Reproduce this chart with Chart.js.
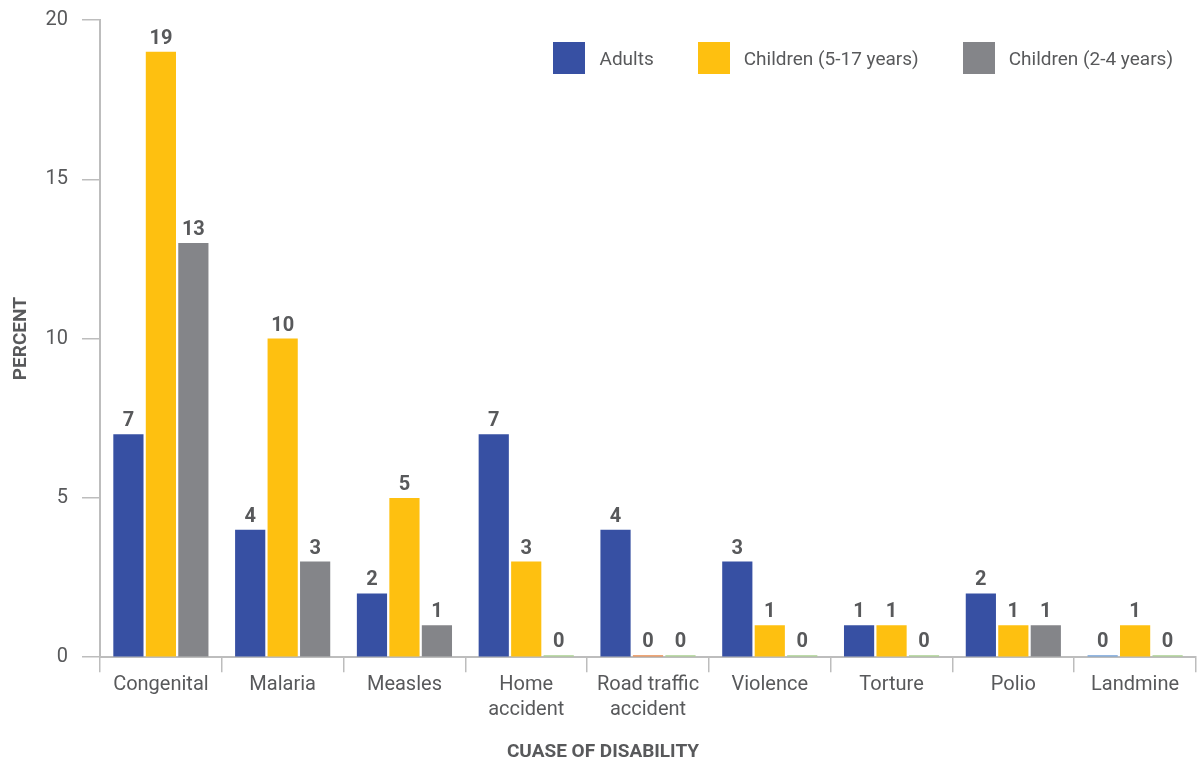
<!DOCTYPE html>
<html>
<head>
<meta charset="utf-8">
<script src="https://cdn.jsdelivr.net/npm/chart.js@4.4.1/dist/chart.umd.min.js"></script>
<style>
    html, body { margin: 0; padding: 0; background: #fff; }
    #wrap { width: 1197px; height: 764px; position: relative; }
    #legend { position: absolute; top: 42px; right: 24px; display: flex; align-items: center;
              font-family: 'Roboto', sans-serif; font-size: 19px; color: #58595b; }
    #legend .item { display: flex; align-items: center; margin-left: 44px; }
    #legend .item:first-child { margin-left: 0; }
    #legend .box { width: 32px; height: 32px; margin-right: 14px; }
</style>
</head>
<body>
<div id="wrap"><canvas id="chart-disability"></canvas><div id="legend"></div></div>
<script>
// categories and values
const causes = ["Congenital", "Malaria", "Measles", ["Home", "accident"], ["Road traffic", "accident"], "Violence", "Torture", "Polio", "Landmine"];
const adults = [7, 4, 2, 7, 4, 3, 1, 2, 0];
const children5to17 = [19, 10, 5, 3, 0, 1, 1, 1, 1];
const children2to4 = [13, 3, 1, 0, 0, 0, 0, 1, 0];
const yTicks = [0, 5, 10, 15, 20];

const fontFamily = "'Roboto', sans-serif";
const textColor = "#58595b";
const axisColor = "#bdbdbd";
const seriesColors = ["#3750a3", "#fec010", "#848589"];

// zero bars show up as a thin coloured stripe in the original
function zeroAware(color, zeroColor) {
    return function (ctx) {
        return ctx.raw === 0 ? zeroColor : color;
    };
}

// value labels on top of each bar
const barValues = {
    id: 'barValues',
    afterDatasetsDraw: function (chart) {
        var ctx = chart.ctx;
        ctx.save();
        ctx.font = "bold 20px " + fontFamily;
        ctx.fillStyle = textColor;
        ctx.textAlign = "center";
        ctx.textBaseline = "bottom";
        chart.data.datasets.forEach(function (ds, i) {
            chart.getDatasetMeta(i).data.forEach(function (bar, j) {
                ctx.fillText(ds.data[j], bar.x, bar.y - 3);
            });
        });
        ctx.restore();
    }
};

var chart = new Chart(document.getElementById("chart-disability"), {
    type: 'bar',
    data: {
        labels: causes,
        datasets: [
            { label: "Adults", data: adults, backgroundColor: zeroAware(seriesColors[0], "#6f9fd8") },
            { label: "Children (5-17 years)", data: children5to17, backgroundColor: zeroAware(seriesColors[1], "#e8884a") },
            { label: "Children (2-4 years)", data: children2to4, backgroundColor: zeroAware(seriesColors[2], "#a9d18e") }
        ]
    },
    options: {
        responsive: true,
        maintainAspectRatio: false,
        animation: false,
        layout: { padding: { top: 0, right: 1, left: 10, bottom: 0 } },
        datasets: {
            bar: { categoryPercentage: 0.8, barPercentage: 0.93, minBarLength: 2 }
        },
        plugins: {
            tooltip: { enabled: false },
            legend: { display: false },
            title: {
                display: true,
                position: 'bottom',
                text: "CUASE OF DISABILITY",
                color: textColor,
                font: { family: fontFamily, size: 19, weight: 'bold' },
                padding: { top: 19, bottom: 0 }
            }
        },
        scales: {
            x: {
                border: { color: axisColor, width: 2 },
                grid: { display: true, drawOnChartArea: false, drawTicks: true, tickLength: 15, color: axisColor, lineWidth: 1.5 },
                ticks: { color: textColor, font: { family: fontFamily, size: 20, lineHeight: 1.25 }, padding: 0, maxRotation: 0 }
            },
            y: {
                min: 0,
                max: 20,
                afterBuildTicks: function (scale) {
                    scale.ticks = yTicks.map(function (v) { return { value: v }; });
                },
                afterFit: function (scale) { scale.width = 90; },
                border: { color: axisColor, width: 2 },
                grid: { display: true, drawOnChartArea: false, drawTicks: true, tickLength: 18, color: axisColor, lineWidth: 1.5 },
                ticks: { color: textColor, font: { family: fontFamily, size: 20, lineHeight: 0.6 }, padding: 14 },
                title: {
                    display: true,
                    text: "PERCENT",
                    color: textColor,
                    font: { family: fontFamily, size: 19, weight: 'bold' },
                    padding: 0
                }
            }
        }
    },
    plugins: [barValues]
});

// legend as html, built from the datasets
var legendEl = document.getElementById("legend");
chart.data.datasets.forEach(function (ds, i) {
    var item = document.createElement("div");
    item.className = "item";
    item.innerHTML = '<span class="box" style="background:' + seriesColors[i] + '"></span><span>' + ds.label + '</span>';
    legendEl.appendChild(item);
});
</script>
</body>
</html>
